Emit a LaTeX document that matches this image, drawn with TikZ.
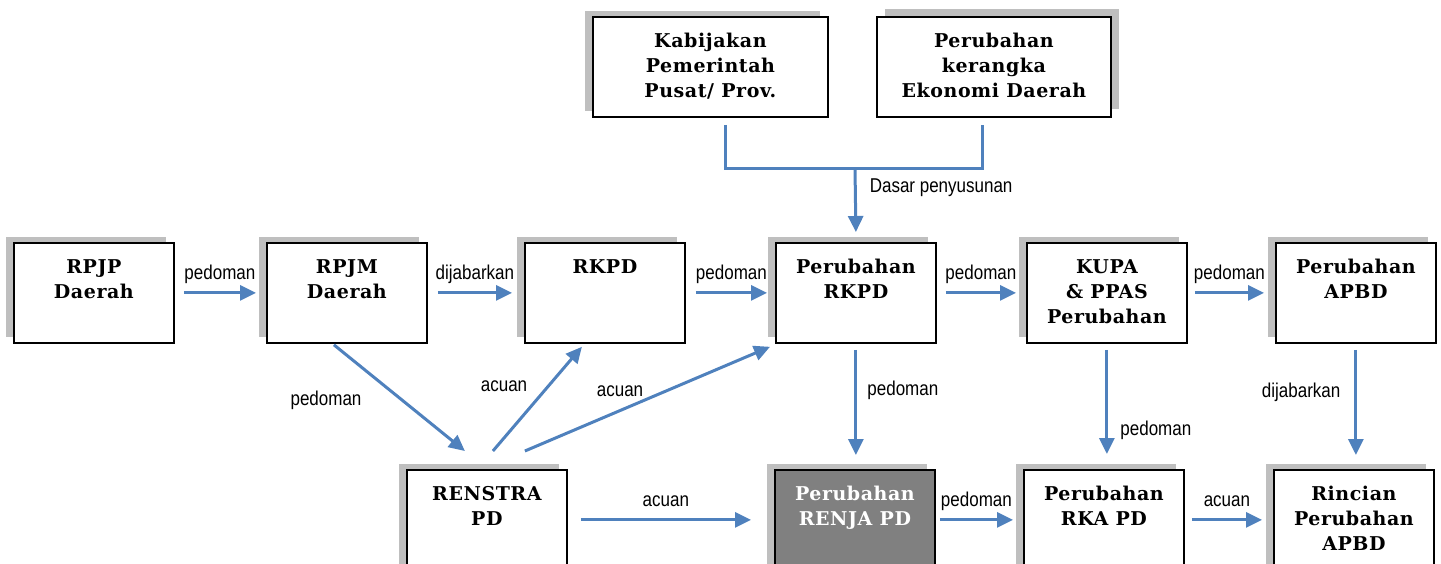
\documentclass[tikz,border=0pt]{standalone}
\usepackage{fontspec}
\usetikzlibrary{arrows.meta,shadows,calc}
\newfontfamily\boxfont[LetterSpace=3]{DejaVu Serif}
\newfontfamily\labfont[FakeStretch=0.85]{Liberation Sans}
\definecolor{arrblue}{RGB}{79,129,189}
\definecolor{shadowgray}{RGB}{191,191,191}
\definecolor{darkbox}{RGB}{128,128,128}
\begin{document}
\begin{tikzpicture}[x=1pt,y=-1pt,
  basebox/.style={draw=black, line width=1.8pt, fill=white, minimum width=160pt, minimum height=100pt, anchor=north west, inner sep=0pt},
  box/.style={basebox, drop shadow={shadow xshift=-8pt, shadow yshift=6pt, fill=shadowgray, opacity=1}},
  boxR/.style={basebox, drop shadow={shadow xshift=8pt, shadow yshift=8pt, fill=shadowgray, opacity=1}},
  bt/.style={font=\boxfont\bfseries\fontsize{19}{25}\selectfont, align=center, anchor=north, inner sep=0pt, yshift=-17pt},
  arr/.style={draw=arrblue, line width=3pt, -{Triangle[length=16pt,width=15pt]}},
  conn/.style={draw=arrblue, line width=3pt},
  lab/.style={font=\labfont\fontsize{20}{24}\selectfont, inner sep=0pt, text height=15pt, text depth=4pt},
]
\useasboundingbox (0,0) rectangle (1441,563);
\clip (0,0) rectangle (1441,563);

% top row
\node[box, minimum width=235pt, label={[bt]north:{Kabijakan\\Pemerintah\\Pusat/ Prov.}}] (kab) at (592,16) {};
\node[boxR, minimum width=234pt, label={[bt]north:{Perubahan\\kerangka\\Ekonomi Daerah}}] (ker) at (876,16) {};

% middle row
\node[box, label={[bt]north:{RPJP\\Daerah}}] (rpjp) at (13,242) {};
\node[box, label={[bt]north:{RPJM\\Daerah}}] (rpjm) at (266,242) {};
\node[box, label={[bt]north:{RKPD}}] (rkpd) at (524,242) {};
\node[box, label={[bt]north:{Perubahan\\RKPD}}] (perrkpd) at (775,242) {};
\node[box, label={[bt]north:{KUPA\\\& PPAS\\Perubahan}}] (kupa) at (1026,242) {};
\node[box, label={[bt]north:{Perubahan\\APBD}}] (apbd) at (1275,242) {};

% bottom row
\node[box, label={[bt]north:{RENSTRA\\PD}}] (renstra) at (406,469) {};
\node[box, fill=darkbox, label={[bt, text=white]north:{Perubahan\\RENJA PD}}] (renja) at (774,469) {};
\node[box, label={[bt]north:{Perubahan\\RKA PD}}] (rka) at (1023,469) {};
\node[box, label={[bt]north:{Rincian\\Perubahan\\APBD}}] (rincian) at (1273,469) {};

% top connector
\coordinate (junc) at (855,168);
\draw[arr] (junc) -- node[lab, pos=.3, right=13pt]{Dasar penyusunan} ([yshift=10pt]perrkpd.north);
\draw[conn] ([xshift=15pt,yshift=-7pt]kab.south) |- (junc) -| ([xshift=-11pt,yshift=-7pt]ker.south);

% middle row arrows
\draw[arr] ([xshift=9pt]rpjp.east) -- node[lab, above=8pt]{pedoman} ([xshift=-10pt]rpjm.west);
\draw[arr] ([xshift=10pt]rpjm.east) -- node[lab, above=8pt]{dijabarkan} ([xshift=-12pt]rkpd.west);
\draw[arr] ([xshift=10pt]rkpd.east) -- node[lab, above=8pt]{pedoman} ([xshift=-8pt]perrkpd.west);
\draw[arr] ([xshift=9pt]perrkpd.east) -- node[lab, above=8pt]{pedoman} ([xshift=-10pt]kupa.west);
\draw[arr] ([xshift=7pt]kupa.east) -- node[lab, above=8pt]{pedoman} ([xshift=-11pt]apbd.west);

% vertical arrows
\draw[arr] ([yshift=-6pt]perrkpd.south) -- node[lab, pos=.38, right=10pt]{pedoman} ([yshift=14pt]perrkpd.south |- renja.north);
\draw[arr] ([yshift=-6pt]kupa.south) -- node[lab, pos=.77, right=12pt]{pedoman} ([yshift=15pt]kupa.south |- rka.north);
\draw[arr] ([yshift=-6pt]apbd.south) -- node[lab, pos=.4, left=14pt]{dijabarkan} ([yshift=14pt]apbd.south |- rincian.north);

% diagonal arrows
\draw[arr] ([xshift=-13pt,yshift=-1pt]rpjm.south) -- ([xshift=-22pt,yshift=18pt]renstra.north);
\draw[arr] ([xshift=6pt,yshift=18pt]renstra.north) -- ([xshift=-23pt,yshift=-3pt]rkpd.south);
\draw[arr] ([xshift=38pt,yshift=18pt]renstra.north) -- ([xshift=-5pt,yshift=-3pt]perrkpd.south west);
\node[lab] (lpedoman) at (326,400) {pedoman};
\node[lab] (lacuan1) at (504,386) {acuan};
\node[lab] (lacuan2) at (620,391) {acuan};

% bottom row arrows
\draw[arr] ([xshift=13pt]renstra.east) -- node[lab, above=8pt]{acuan} ([xshift=-23pt]renja.west);
\draw[arr] ([xshift=4pt]renja.east) -- node[lab, above=8pt]{pedoman} ([xshift=-10pt]rka.west);
\draw[arr] ([xshift=7pt]rka.east) -- node[lab, above=8pt]{acuan} ([xshift=-11pt]rincian.west);
\end{tikzpicture}
\end{document}
